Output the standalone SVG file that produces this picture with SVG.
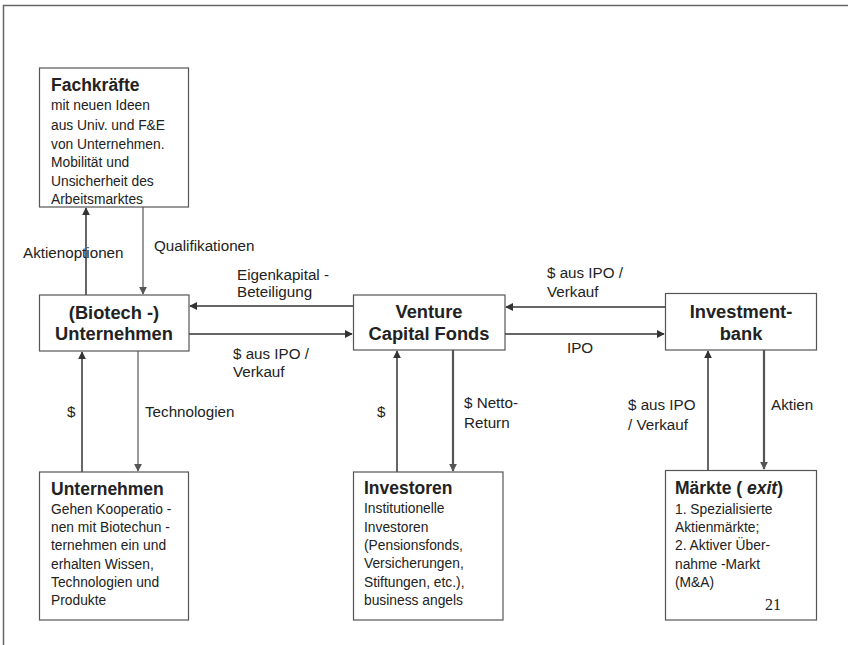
<svg xmlns="http://www.w3.org/2000/svg" width="848" height="645" viewBox="0 0 848 645">
<defs>
<marker id="ad" viewBox="0 0 10 10" refX="9" refY="5" markerWidth="8" markerHeight="8" markerUnits="userSpaceOnUse" orient="auto"><path d="M0,0 L10,5 L0,10 z" fill="#333"/></marker>
<marker id="ag" viewBox="0 0 10 10" refX="9" refY="5" markerWidth="8" markerHeight="8" markerUnits="userSpaceOnUse" orient="auto"><path d="M0,0 L10,5 L0,10 z" fill="#555"/></marker>
</defs>
<style>
text{font-family:"Liberation Sans",Arial,sans-serif;fill:#222}
.box{fill:#fff;stroke:#555;stroke-width:1.2}
.t{font-size:17.5px;font-weight:bold}
.h{font-size:18.3px;font-weight:bold;text-anchor:middle}
.b{font-size:13.8px}
.l{font-size:15.2px}
.cd{stroke:#333;stroke-width:1.5;fill:none;marker-end:url(#ad)}
.cg{stroke:#777;stroke-width:1.5;fill:none;marker-end:url(#ag)}
.cw{stroke:#555;stroke-width:2.2;fill:none;marker-end:url(#ag)}
</style>
<rect width="848" height="645" fill="#fff"/>
<path d="M3.5,645 V5.5 H848" fill="none" stroke="#666" stroke-width="1.5"/>

<g id="connectors">
<line class="cd" x1="86" y1="295" x2="86" y2="208"/>
<line class="cg" x1="143" y1="207" x2="143" y2="294"/>
<line class="cd" x1="353" y1="306" x2="190" y2="306"/>
<line class="cd" x1="189" y1="334" x2="352" y2="334"/>
<line class="cd" x1="665" y1="307" x2="506" y2="307"/>
<line class="cd" x1="505" y1="334" x2="664" y2="334"/>
<line class="cd" x1="82" y1="472" x2="82" y2="352"/>
<line class="cg" x1="138" y1="351" x2="138" y2="471"/>
<line class="cd" x1="397" y1="472" x2="397" y2="351"/>
<line class="cw" x1="453" y1="350" x2="453" y2="471"/>
<line class="cd" x1="708" y1="470" x2="708" y2="351"/>
<line class="cw" x1="764" y1="350" x2="764" y2="469"/>
<text class="l" x="23" y="258">Aktienoptionen</text>
<text class="l" x="154" y="251">Qualifikationen</text>
<text class="l" x="237" y="280">Eigenkapital -</text>
<text class="l" x="237" y="297">Beteiligung</text>
<text class="l" x="233" y="359">$ aus IPO /</text>
<text class="l" x="233" y="377">Verkauf</text>
<text class="l" x="547" y="278">$ aus IPO /</text>
<text class="l" x="547" y="297">Verkauf</text>
<text class="l" x="567" y="353">IPO</text>
<text class="l" x="67" y="417">$</text>
<text class="l" x="145" y="417">Technologien</text>
<text class="l" x="377" y="417">$</text>
<text class="l" x="464" y="408">$ Netto-</text>
<text class="l" x="464" y="428">Return</text>
<text class="l" x="628" y="410">$ aus IPO</text>
<text class="l" x="628" y="430">/ Verkauf</text>
<text class="l" x="771" y="410">Aktien</text>
</g>

<g id="fachkraefte">
<rect class="box" x="39.5" y="68" width="149" height="139"/>
<text class="t" x="51" y="91">Fachkräfte</text>
<text class="b" x="51" y="110">mit neuen Ideen</text>
<text class="b" x="51" y="129.5">aus Univ. und F&amp;E</text>
<text class="b" x="51" y="148.5">von Unternehmen.</text>
<text class="b" x="51" y="167">Mobilität und</text>
<text class="b" x="51" y="185.5">Unsicherheit des</text>
<text class="b" x="51" y="203.5">Arbeitsmarktes</text>
</g>

<g id="biotech">
<rect class="box" x="39.5" y="295" width="149.5" height="56"/>
<text class="h" x="114" y="319">(Biotech -)</text>
<text class="h" x="114" y="340">Unternehmen</text>
</g>

<g id="vc">
<rect class="box" x="353.5" y="295" width="151.5" height="55"/>
<text class="h" x="429" y="318">Venture</text>
<text class="h" x="429" y="340">Capital Fonds</text>
</g>

<g id="investmentbank">
<rect class="box" x="665.5" y="293.5" width="151" height="56.5"/>
<text class="h" x="741" y="318">Investment-</text>
<text class="h" x="741" y="340">bank</text>
</g>

<g id="unternehmen">
<rect class="box" x="39.5" y="472" width="149" height="148"/>
<text class="t" x="51" y="495">Unternehmen</text>
<text class="b" x="51" y="513.5">Gehen  Kooperatio -</text>
<text class="b" x="51" y="532">nen mit  Biotechun -</text>
<text class="b" x="51" y="550">ternehmen  ein und</text>
<text class="b" x="51" y="568.5">erhalten Wissen,</text>
<text class="b" x="51" y="587">Technologien und</text>
<text class="b" x="51" y="605">Produkte</text>
</g>

<g id="investoren">
<rect class="box" x="353.5" y="472" width="149.5" height="148"/>
<text class="t" x="364" y="493.5">Investoren</text>
<text class="b" x="364" y="513">Institutionelle</text>
<text class="b" x="364" y="531.5">Investoren</text>
<text class="b" x="364" y="549.5">(Pensionsfonds,</text>
<text class="b" x="364" y="568">Versicherungen,</text>
<text class="b" x="364" y="586.5">Stiftungen, etc.),</text>
<text class="b" x="364" y="605">business  angels</text>
</g>

<g id="maerkte">
<rect class="box" x="665.5" y="470.5" width="151" height="149.5"/>
<text class="t" x="675" y="493.5">Märkte ( <tspan font-style="italic">exit</tspan>)</text>
<text class="b" x="675" y="513.5">1. Spezialisierte</text>
<text class="b" x="675" y="532">Aktienmärkte;</text>
<text class="b" x="675" y="550">2. Aktiver  Über-</text>
<text class="b" x="675" y="568.5">nahme -Markt</text>
<text class="b" x="675" y="587">(M&amp;A)</text>
<text x="765" y="610" style="font-family:'Liberation Serif','Times New Roman',serif;font-size:16px">21</text>
</g>
</svg>
